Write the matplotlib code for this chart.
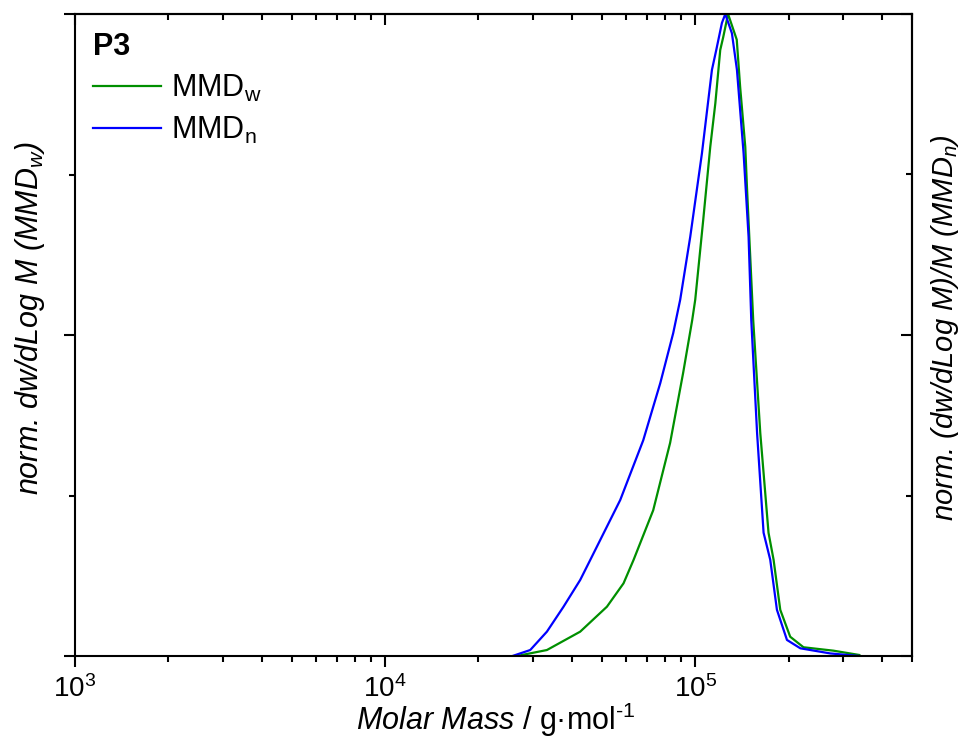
import matplotlib
matplotlib.use("Agg")
import matplotlib.pyplot as plt
from matplotlib.ticker import LogLocator, MultipleLocator, NullFormatter

plt.rcParams['font.family'] = ['Liberation Sans', 'DejaVu Sans']
plt.rcParams['mathtext.fontset'] = 'custom'
plt.rcParams['mathtext.rm'] = 'Liberation Sans'
plt.rcParams['mathtext.it'] = 'Liberation Sans:italic'
plt.rcParams['mathtext.bf'] = 'Liberation Sans:bold'

# MMD_w (green) : molar mass [g/mol] and normalised intensity
mw_M = [26600, 33240, 42560, 51910, 58720, 63240, 73190, 82990, 91410, 97760,
        100000, 106100, 111800, 116100, 120400, 123100, 127600, 136100, 139600,
        145000, 146800, 153800, 162100, 172300, 178900, 188000, 202400, 223400,
        279000, 338000]
mw_y = [0.0, 0.0093, 0.0379, 0.0768, 0.1132, 0.1495, 0.227, 0.332, 0.441, 0.523,
        0.555, 0.679, 0.793, 0.861, 0.944, 0.964, 1.0, 0.960, 0.886,
        0.793, 0.731, 0.523, 0.347, 0.192, 0.150, 0.072, 0.030, 0.0136,
        0.0083, 0.0016]

# MMD_n (blue)
mn_M = [25740, 29370, 33240, 37610, 42560, 45850, 57300, 67970, 77130, 84920,
        89440, 96360, 105100, 113200, 116900, 121900, 125000, 131300, 136300,
        143200, 148600, 151600, 158300, 166100, 174500, 183400, 197600, 218200,
        272500, 337900]
mn_y = [0.0, 0.0093, 0.0379, 0.0768, 0.1184, 0.1495, 0.243, 0.336, 0.425, 0.503,
        0.555, 0.653, 0.783, 0.913, 0.944, 0.986, 1.0, 0.970, 0.913,
        0.783, 0.653, 0.523, 0.347, 0.192, 0.150, 0.072, 0.025, 0.012,
        0.004, 0.0]

FS = 22
fig = plt.figure(figsize=(9.63, 7.42), dpi=100)
ax = fig.add_axes([75/963, 1-656/742, (912-75)/963, (656-14)/742])

ax.plot(mw_M, mw_y, color='#008f00', lw=1.6, label='MMD$_\\mathrm{w}$')
ax.plot(mn_M, mn_y, color='#0000ff', lw=1.6, label='MMD$_\\mathrm{n}$')

ax.set_xscale('log')
ax.set_xlim(1e3, 5e5)
ax.set_ylim(0, 1)

ax.xaxis.set_major_locator(LogLocator(base=10, numticks=10))
ax.xaxis.set_minor_locator(LogLocator(base=10, subs=range(2, 10), numticks=100))
ax.xaxis.set_minor_formatter(NullFormatter())
ax.yaxis.set_major_locator(MultipleLocator(0.5))
ax.yaxis.set_minor_locator(MultipleLocator(0.25))
ax.set_yticklabels([])

for sp in ax.spines.values():
    sp.set_linewidth(1.5)

ax.tick_params(axis='x', which='both', direction='out', top=False, labelsize=20, pad=6, width=1.5)
ax.tick_params(axis='x', which='major', length=8)
ax.tick_params(axis='x', which='minor', length=4)
ax.tick_params(axis='y', which='both', direction='out', right=False, width=1.5)
ax.tick_params(axis='y', which='major', length=8)
ax.tick_params(axis='y', which='minor', length=4.5)

# inward ticks on top and right
top = ax.secondary_xaxis('top')
top.xaxis.set_major_locator(LogLocator(base=10, numticks=10))
top.xaxis.set_minor_locator(LogLocator(base=10, subs=range(2, 10), numticks=100))
top.xaxis.set_minor_formatter(NullFormatter())
top.tick_params(axis='x', which='both', direction='in', labeltop=False, width=1.5)
top.tick_params(axis='x', which='major', length=8)
top.tick_params(axis='x', which='minor', length=4)
top.spines['top'].set_linewidth(1.5)

right = ax.secondary_yaxis('right')
right.yaxis.set_major_locator(MultipleLocator(0.5))
right.yaxis.set_minor_locator(MultipleLocator(0.25))
right.tick_params(axis='y', which='both', direction='in', labelright=False, width=1.5)
right.tick_params(axis='y', which='major', length=8)
right.tick_params(axis='y', which='minor', length=4.5)
right.spines['right'].set_linewidth(1.5)

ax.set_xlabel('$\\mathit{Molar\\ Mass}$ / g·mol$^{\\text{-1}}$', fontsize=FS)
ax.xaxis.set_label_coords((496-75)/837, (656-720)/642)
ax.xaxis.label.set_va('center')
ax.set_ylabel('norm. dw/dLog M (MMD$_{\\mathit{w}}$)', fontsize=FS, style='italic')
ax.yaxis.set_label_coords((30-75)/837, (656-318)/642)
ax.yaxis.label.set_va('center')
fig.text(945/963, 1-328/742, 'norm. (dw/dLog M)/M (MMD$_{\\mathit{n}}$)', fontsize=21,
         style='italic', rotation=90, ha='center', va='center')

leg = ax.legend(loc='upper left', frameon=False, fontsize=FS, title='P3',
                title_fontproperties={'weight': 'bold', 'size': FS},
                alignment='left', handlelength=2.2, handletextpad=0.33,
                borderaxespad=0.2, labelspacing=0.35, borderpad=0.4)

fig.savefig('out.png', dpi=100)
